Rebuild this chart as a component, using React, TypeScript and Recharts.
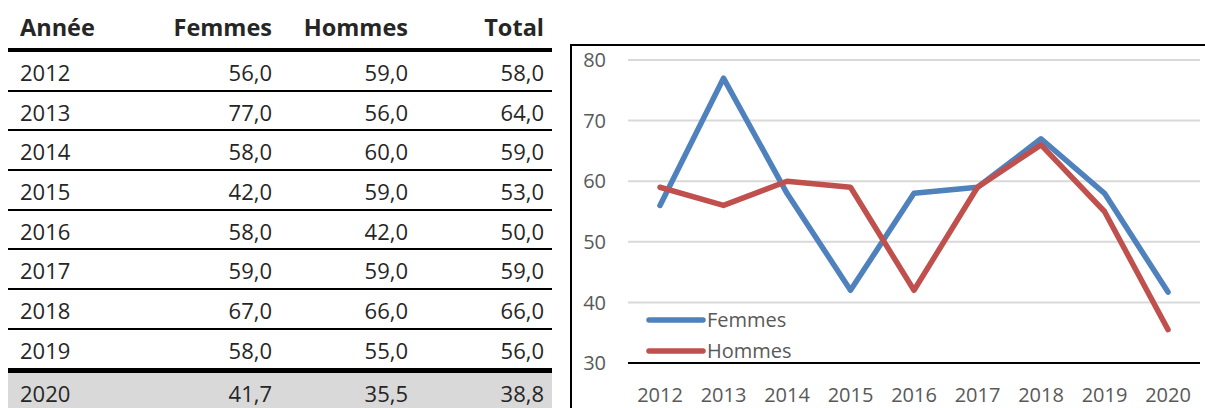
import { LineChart, Line, XAxis, YAxis, CartesianGrid, Legend } from "recharts";

const years = ["2012", "2013", "2014", "2015", "2016", "2017", "2018", "2019", "2020"];
const femmes = [56.0, 77.0, 58.0, 42.0, 58.0, 59.0, 67.0, 58.0, 41.7];
const hommes = [59.0, 56.0, 60.0, 59.0, 42.0, 59.0, 66.0, 55.0, 35.5];
const total = [58.0, 64.0, 59.0, 53.0, 50.0, 59.0, 66.0, 56.0, 38.8];
const yTicks = [30, 40, 50, 60, 70, 80];

const data = years.map((year, i) => ({ year, Femmes: femmes[i], Hommes: hommes[i] }));

const FONT = "'Open Sans', 'Noto Sans', sans-serif";
const fmt = (v: number) => v.toFixed(1).replace(".", ",");

const colRight = [0, 264, 400, 536]; // right edge of numeric columns, from table left

function Row({ cells, bold, height, border, bg, shift }: { cells: string[]; bold?: boolean; height: number; border: string; bg?: string; shift: number }) {
  return (
    <div style={{ position: "relative", height, borderBottom: border, background: bg }}>
      {cells.map((c, i) => {
        const s: any = { position: "absolute", top: shift, lineHeight: `${height}px`, fontWeight: bold ? 700 : 400 };
        if (i === 0) s.left = 12;
        else s.right = 544 - colRight[i];
        return (
          <span key={i} style={s}>
            {c}
          </span>
        );
      })}
    </div>
  );
}

function DataTable() {
  return (
    <div style={{ position: "absolute", left: 8, top: 0, width: 544, fontFamily: FONT, fontSize: 22, color: "#262626" }}>
      <div style={{ fontSize: 23.5 }}>
        <Row cells={["Année", "Femmes", "Hommes", "Total"]} bold height={48} border="4px solid #000" shift={3} />
      </div>
      {years.map((y, i) => {
        const last = i === years.length - 1;
        const beforeLast = i === years.length - 2;
        return (
          <Row
            key={y}
            cells={[y, fmt(femmes[i]), fmt(hommes[i]), fmt(total[i])]}
            height={37.7}
            shift={2}
            border={last ? "none" : beforeLast ? "5px solid #000" : "2px solid #000"}
            bg={last ? "#d9d9d9" : undefined}
          />
        );
      })}
    </div>
  );
}

function LegendContent(props: any) {
  const items = props.payload || [];
  return (
    <div style={{ fontFamily: FONT, fontSize: 20, color: "#595959" }}>
      {items.map((it: any) => (
        <div key={it.value} style={{ display: "flex", alignItems: "center", height: 31 }}>
          <svg width={60} height={10}>
            <line x1={3} y1={5} x2={57} y2={5} stroke={it.color} strokeWidth={5.5} strokeLinecap="round" />
          </svg>
          <span style={{ marginLeft: 1 }}>{it.value}</span>
        </div>
      ))}
    </div>
  );
}

export default function App() {
  return (
    <div style={{ position: "absolute", left: 0, top: 0, width: 1205, height: 408, overflow: "hidden", background: "#fff" }}>
      <DataTable />
      <div
        style={{
          position: "absolute",
          left: 570,
          top: 44,
          width: 700,
          height: 420,
          borderLeft: "2px solid #000",
          borderTop: "2px solid #000",
        }}
      />
      <div style={{ position: "absolute", left: 572, top: 46 }}>
        <LineChart width={633} height={362} data={data} margin={{ top: 14, right: 5, bottom: 0, left: 0 }}>
          <CartesianGrid vertical={false} stroke="#d9d9d9" strokeWidth={2} />
          <XAxis
            dataKey="year"
            padding={{ left: 32, right: 32 }}
            height={45}
            tickLine={false}
            tickSize={0}
            tickMargin={25}
            axisLine={{ stroke: "#000", strokeWidth: 2 }}
            tick={{ fill: "#595959", fontSize: 20, fontFamily: FONT }}
            interval={0}
          />
          <YAxis
            domain={[30, 80]}
            ticks={yTicks}
            width={56}
            axisLine={false}
            tickLine={false}
            tickSize={0}
            tickMargin={22}
            tick={{ fill: "#595959", fontSize: 20, fontFamily: FONT }}
          />
          <Legend
            layout="vertical"
            align="center"
            verticalAlign="middle"
            content={<LegendContent />}
            wrapperStyle={{ position: "absolute", left: 74, top: 258, width: 200, bottom: "auto" }}
          />
          <Line
            type="linear"
            dataKey="Femmes"
            stroke="#4f81bd"
            strokeWidth={5.5}
            strokeLinecap="round"
            strokeLinejoin="round"
            dot={false}
            activeDot={false}
            isAnimationActive={false}
          />
          <Line
            type="linear"
            dataKey="Hommes"
            stroke="#c0504d"
            strokeWidth={5.5}
            strokeLinecap="round"
            strokeLinejoin="round"
            dot={false}
            activeDot={false}
            isAnimationActive={false}
          />
        </LineChart>
      </div>
    </div>
  );
}
